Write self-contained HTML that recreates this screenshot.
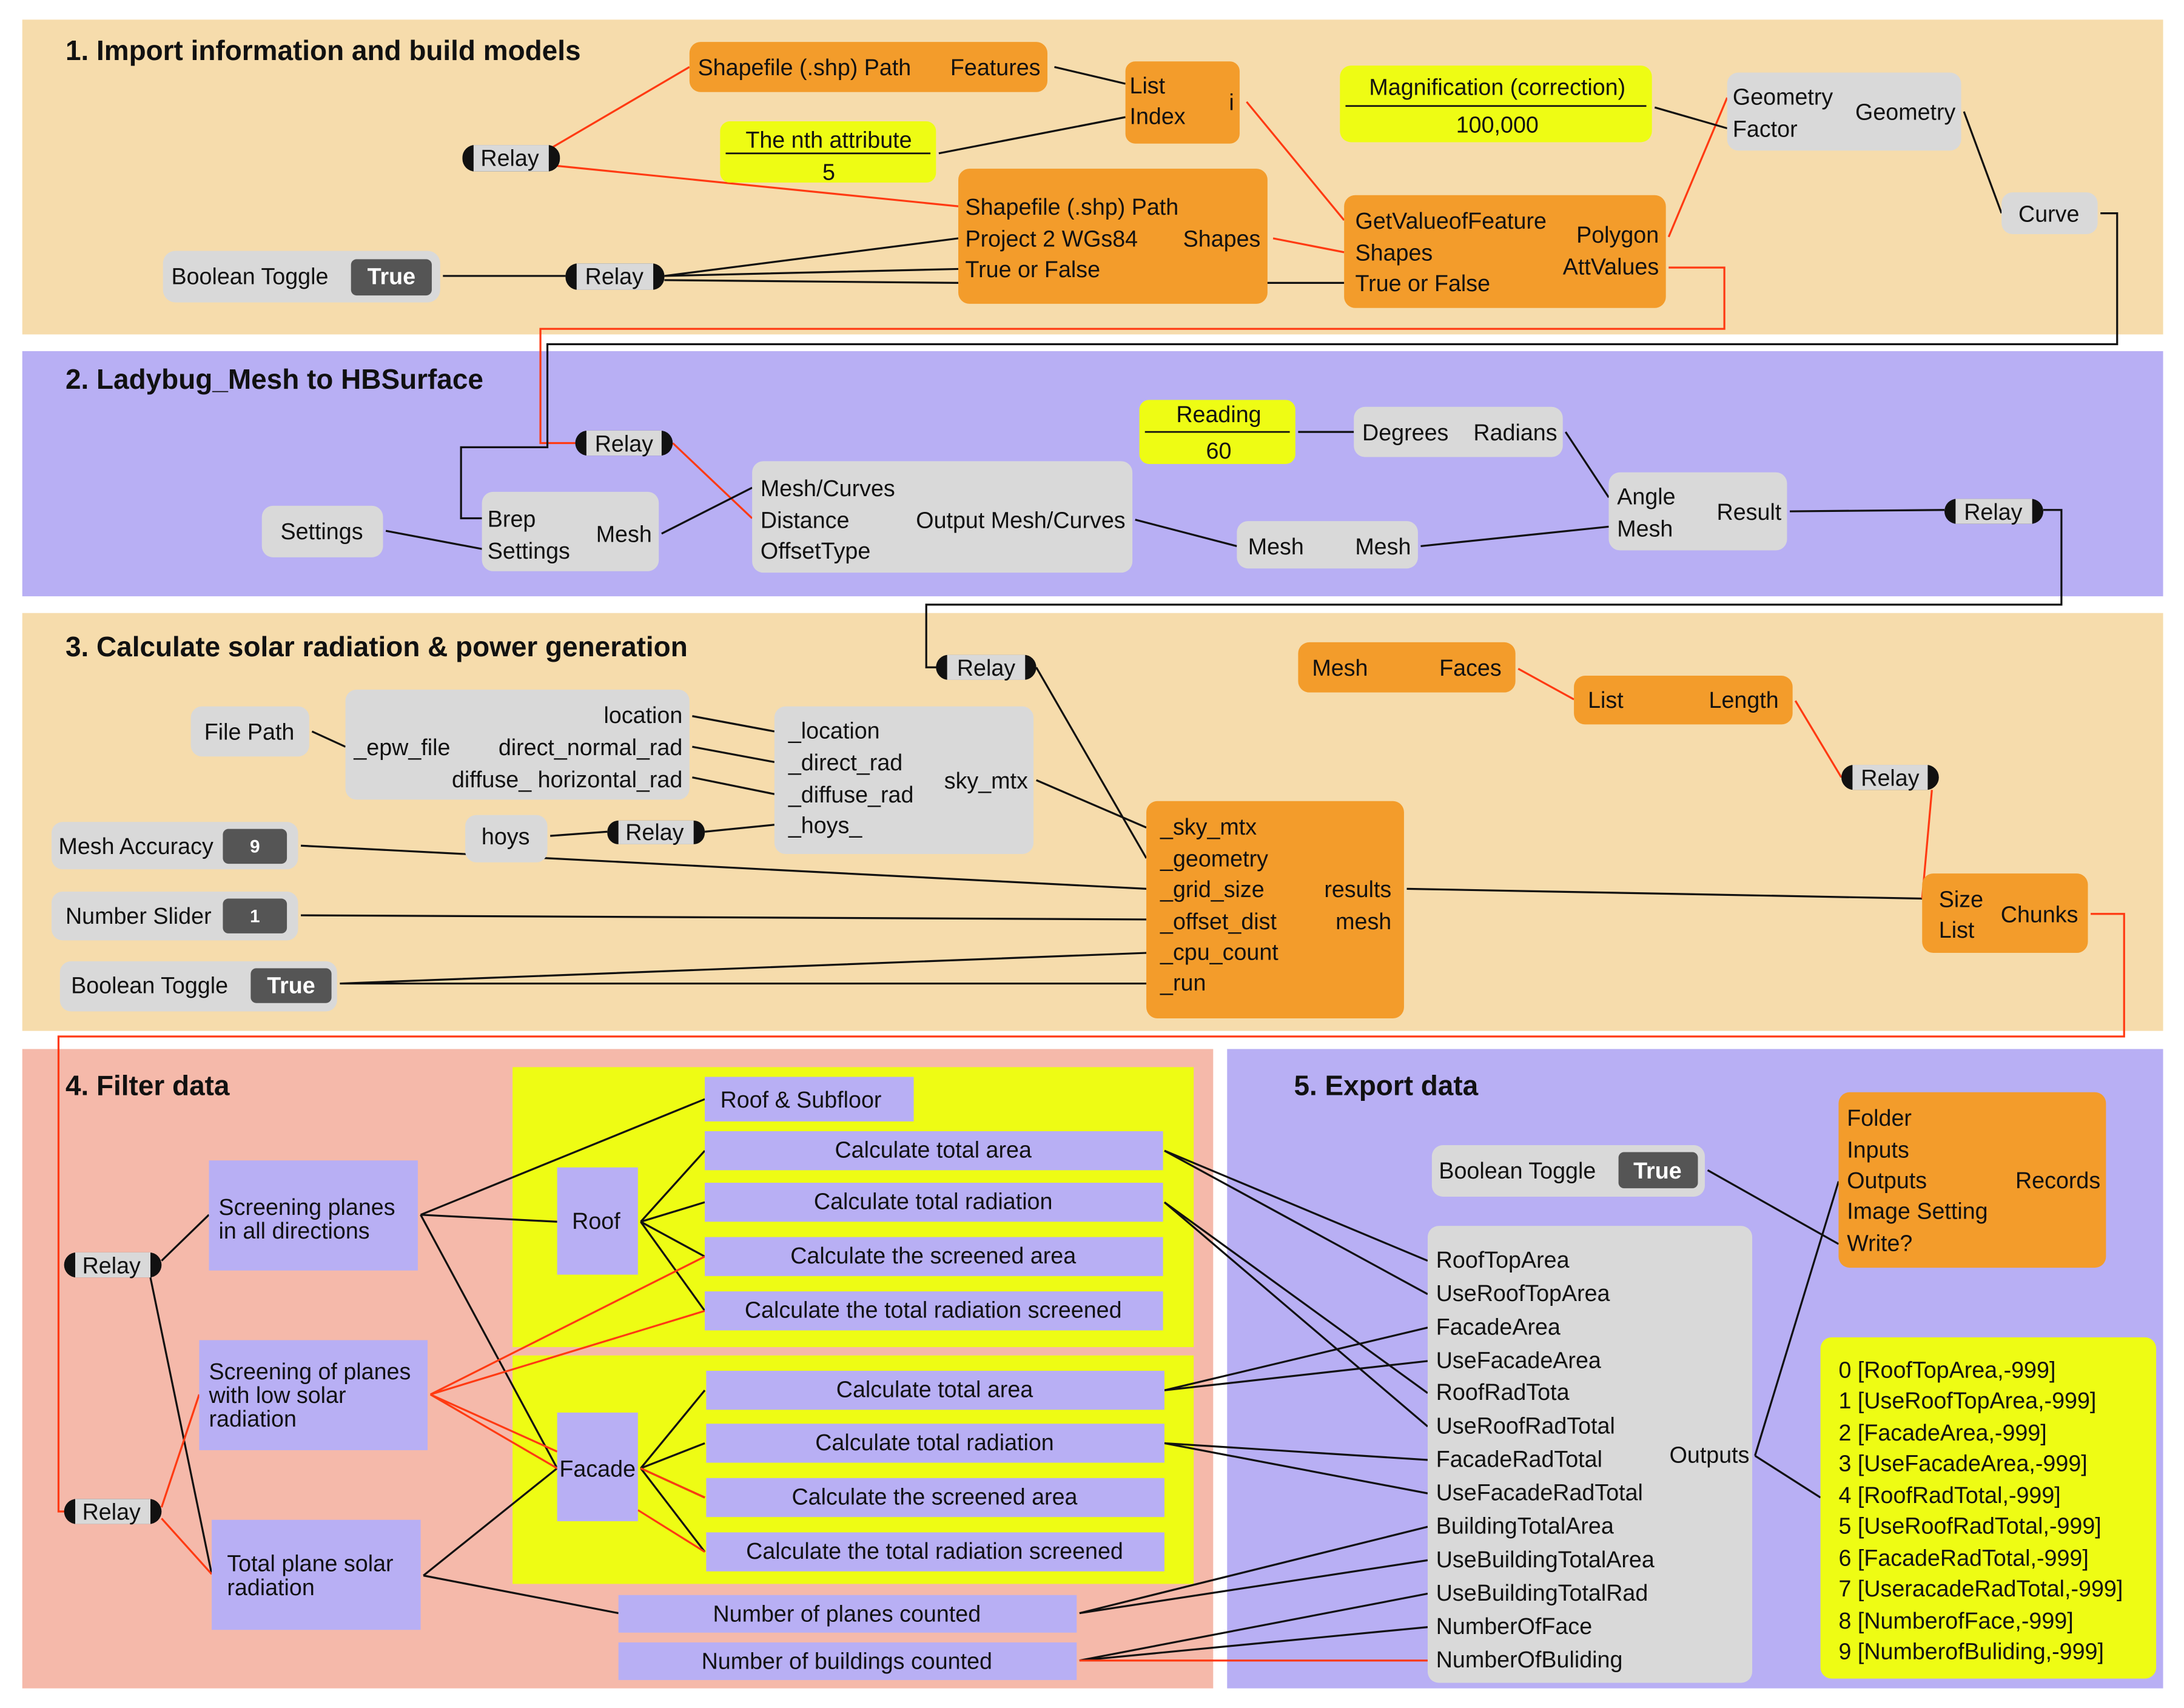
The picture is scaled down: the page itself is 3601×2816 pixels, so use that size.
<!DOCTYPE html>
<html><head><meta charset="utf-8"><style>
html,body{margin:0;padding:0;background:#fff}
svg{display:block}
text{font-family:"Liberation Sans",sans-serif;font-size:16.4px;fill:#111}
.t{font-size:20px;font-weight:bold}
.e{text-anchor:end}.m{text-anchor:middle}
.wb{fill:#fff;font-weight:bold;text-anchor:middle}
.k{stroke:#111;stroke-width:1.4;fill:none}
.r{stroke:#ff3a12;stroke-width:1.4;fill:none}
.o{fill:#f39c2b}.g{fill:#d9d9d9}.y{fill:#eefc14}.p{fill:#b8aff4}.d{fill:#555}
</style></head><body>
<svg width="3601" height="2816" viewBox="0 0 1568 1226" xmlns="http://www.w3.org/2000/svg">
<rect x="16" y="14" width="1537" height="226" fill="#f6dcac"/>
<rect x="16" y="252" width="1537" height="176" fill="#b8aff4"/>
<rect x="16" y="440" width="1537" height="300" fill="#f6dcac"/>
<rect x="16" y="753" width="855" height="459" fill="#f5b9aa"/>
<rect x="881" y="753" width="672" height="459" fill="#b8aff4"/>
<rect x="368" y="766" width="489" height="201" class="y"/>
<rect x="368" y="973" width="489" height="164" class="y"/>

<text class="t" x="47" y="43">1. Import information and build models</text>
<text class="t" x="47" y="279">2. Ladybug_Mesh to HBSurface</text>
<text class="t" x="47" y="471">3. Calculate solar radiation &amp; power generation</text>
<text class="t" x="47" y="786">4. Filter data</text>
<text class="t" x="929" y="786">5. Export data</text>

<path class="r" d="M396 106 L495 48 M400 119 L688 148 M895 73 L965 158 M914 171 L965 181 M1198 170 L1240 70"/>
<path class="k" d="M757 48 L808 60 M674 110 L808 84 M318 198 L406 198 M477 198 L688 171 M477 198 L688 193 M477 201 L688 203 L965 203 M1188 77 L1240 92 M1410 80 L1437 153"/>
<path class="r" d="M1198 192 L1238 192 L1238 236 L388 236 L388 318 L413 318"/>
<path class="k" d="M1508 153 L1520 153 L1520 247 L393 247 L393 321 L331 321 L331 372 L346 372"/>
<path class="r" d="M483 318 L540 372"/>
<path class="k" d="M277 381 L346 394 M475 383 L540 350 M815 373 L888 392 M932 310 L972 310 M1124 310 L1155 357 M1020 392 L1155 378 M1285 367 L1396 366 M1467 366 L1480 366 L1480 434 L665 434 L665 479 L675 479"/>
<path class="k" d="M224 525 L248 536 M497 514 L556 525 M497 536 L556 547 M497 558 L556 570 M506 597 L556 592 M395 600 L436 597 M744 560 L823 594 M744 479 L823 616 M216 607 L823 638 M216 657 L823 660 M244 706 L823 684 M244 706 L823 706 M1010 638 L1380 645"/>
<path class="r" d="M1090 480 L1130 502 M1289 503 L1322 558 M1387 567 L1380 645 M1501 656 L1525 656 L1525 744 L42 744 L42 1085 L48 1085"/>
<path class="k" d="M116 905 L150 872 M108 917 L152 1130 M302 872 L506 789 M302 872 L400 877 M302 872 L400 1054 M304 1131 L400 1054 M304 1131 L444 1158 M460 877 L506 826 M460 877 L506 863 M460 877 L506 902 M460 877 L506 941 M460 1054 L506 998 M460 1054 L506 1036 M460 1054 L506 1075 M460 1054 L506 1114"/>
<path class="r" d="M116 1082 L143 1001 M116 1090 L152 1130 M309 1001 L506 902 M309 1001 L506 941 M309 1001 L400 1042 M309 1001 L400 1054 M460 1054 L506 1075 M458 1084 L506 1114"/>
<path class="k" d="M1226 840 L1320 893 M1260 1045 L1320 848 M1260 1045 L1307 1075 M836 826 L1025 905 M836 826 L1025 929 M836 863 L1025 1000 M836 863 L1025 1024 M836 998 L1025 953 M836 998 L1025 977 M836 1036 L1025 1048 M836 1036 L1025 1072 M775 1158 L1025 1096 M775 1158 L1025 1120 M775 1192 L1025 1144 M775 1192 L1025 1168"/>
<path class="r" d="M775 1192 L1025 1192"/>

<rect x="495" y="30" width="257" height="36" rx="8" class="o"/>
<text x="501" y="54">Shapefile (.shp) Path</text><text class="e" x="747" y="54">Features</text>
<rect x="808" y="44" width="82" height="59" rx="7" class="o"/>
<text x="811" y="67">List</text><text x="811" y="89">Index</text><text class="e" x="886" y="79">i</text>
<rect x="517" y="87" width="155" height="44" rx="7" class="y"/>
<line x1="521" y1="110" x2="668" y2="110" stroke="#111" stroke-width="1.2"/>
<text class="m" x="595" y="106">The nth attribute</text><text class="m" x="595" y="129">5</text>
<rect x="332" y="104" width="70" height="19" rx="9" fill="#111"/><rect x="340" y="104" width="54" height="19" class="g"/>
<text class="m" x="366" y="119">Relay</text>
<rect x="688" y="121" width="222" height="97" rx="8" class="o"/>
<text x="693" y="154">Shapefile (.shp) Path</text><text x="693" y="177">Project 2 WGs84</text><text x="693" y="199">True or False</text><text class="e" x="905" y="177">Shapes</text>
<rect x="117" y="180" width="199" height="37" rx="9" class="g"/>
<text x="123" y="204">Boolean Toggle</text>
<rect x="252" y="186" width="58" height="26" rx="4" class="d"/><text class="wb" x="281" y="204">True</text>
<rect x="406" y="189" width="71" height="19" rx="9" fill="#111"/><rect x="414" y="189" width="55" height="19" class="g"/>
<text class="m" x="441" y="204">Relay</text>
<rect x="965" y="140" width="231" height="81" rx="8" class="o"/>
<text x="973" y="164">GetValueofFeature</text><text x="973" y="187">Shapes</text><text x="973" y="209">True or False</text>
<text class="e" x="1191" y="174">Polygon</text><text class="e" x="1191" y="197">AttValues</text>
<rect x="962" y="47" width="224" height="55" rx="8" class="y"/>
<line x1="966" y1="76" x2="1182" y2="76" stroke="#111" stroke-width="1.2"/>
<text class="m" x="1075" y="68">Magnification (correction)</text><text class="m" x="1075" y="95">100,000</text>
<rect x="1240" y="52" width="168" height="56" rx="8" class="g"/>
<text x="1244" y="75">Geometry</text><text x="1244" y="98">Factor</text><text class="e" x="1404" y="86">Geometry</text>
<rect x="1437" y="138" width="69" height="30" rx="8" class="g"/>
<text class="m" x="1471" y="159">Curve</text>

<rect x="413" y="309" width="70" height="18" rx="9" fill="#111"/><rect x="421" y="309" width="54" height="18" class="g"/>
<text class="m" x="448" y="324">Relay</text>
<rect x="188" y="363" width="87" height="37" rx="8" class="g"/><text class="m" x="231" y="387">Settings</text>
<rect x="346" y="353" width="127" height="57" rx="8" class="g"/>
<text x="350" y="378">Brep</text><text x="350" y="401">Settings</text><text class="e" x="468" y="389">Mesh</text>
<rect x="540" y="331" width="273" height="80" rx="8" class="g"/>
<text x="546" y="356">Mesh/Curves</text><text x="546" y="379">Distance</text><text x="546" y="401">OffsetType</text><text class="e" x="808" y="379">Output Mesh/Curves</text>
<rect x="818" y="287" width="112" height="46" rx="7" class="y"/>
<line x1="822" y1="310" x2="926" y2="310" stroke="#111" stroke-width="1.2"/>
<text class="m" x="875" y="303">Reading</text><text class="m" x="875" y="329">60</text>
<rect x="972" y="292" width="150" height="36" rx="8" class="g"/>
<text x="978" y="316">Degrees</text><text class="e" x="1118" y="316">Radians</text>
<rect x="888" y="374" width="130" height="34" rx="8" class="g"/>
<text x="896" y="398">Mesh</text><text class="e" x="1013" y="398">Mesh</text>
<rect x="1155" y="339" width="128" height="56" rx="8" class="g"/>
<text x="1161" y="362">Angle</text><text x="1161" y="385">Mesh</text><text class="e" x="1279" y="373">Result</text>
<rect x="1396" y="358" width="71" height="18" rx="9" fill="#111"/><rect x="1404" y="358" width="55" height="18" class="g"/>
<text class="m" x="1431" y="373">Relay</text>

<rect x="672" y="470" width="72" height="18" rx="9" fill="#111"/><rect x="680" y="470" width="56" height="18" class="g"/>
<text class="m" x="708" y="485">Relay</text>
<rect x="932" y="461" width="156" height="36" rx="8" class="o"/>
<text x="942" y="485">Mesh</text><text class="e" x="1078" y="485">Faces</text>
<rect x="1130" y="485" width="157" height="35" rx="8" class="o"/>
<text x="1140" y="508">List</text><text class="e" x="1277" y="508">Length</text>
<rect x="1322" y="549" width="70" height="18" rx="9" fill="#111"/><rect x="1330" y="549" width="54" height="18" class="g"/>
<text class="m" x="1357" y="564">Relay</text>
<rect x="137" y="507" width="85" height="36" rx="8" class="g"/><text class="m" x="179" y="531">File Path</text>
<rect x="248" y="495" width="247" height="79" rx="8" class="g"/>
<text class="e" x="490" y="519">location</text><text x="254" y="542">_epw_file</text><text class="e" x="490" y="542">direct_normal_rad</text><text class="e" x="490" y="565">diffuse_ horizontal_rad</text>
<rect x="556" y="507" width="186" height="106" rx="8" class="g"/>
<text x="566" y="530">_location</text><text x="566" y="553">_direct_rad</text><text x="566" y="576">_diffuse_rad</text><text x="566" y="598">_hoys_</text><text class="e" x="738" y="566">sky_mtx</text>
<rect x="37" y="590" width="177" height="34" rx="8" class="g"/><text x="42" y="613">Mesh Accuracy</text>
<rect x="160" y="595" width="46" height="25" rx="4" class="d"/><text class="wb" x="183" y="612" style="font-size:13px">9</text>
<rect x="334" y="585" width="59" height="34" rx="8" class="g"/><text class="m" x="363" y="606">hoys</text>
<rect x="436" y="589" width="70" height="17" rx="8" fill="#111"/><rect x="444" y="589" width="54" height="17" class="g"/>
<text class="m" x="470" y="603">Relay</text>
<rect x="37" y="640" width="177" height="35" rx="8" class="g"/><text x="47" y="663">Number Slider</text>
<rect x="160" y="645" width="46" height="25" rx="4" class="d"/><text class="wb" x="183" y="662" style="font-size:13px">1</text>
<rect x="43" y="690" width="199" height="36" rx="8" class="g"/><text x="51" y="713">Boolean Toggle</text>
<rect x="180" y="695" width="58" height="25" rx="4" class="d"/><text class="wb" x="209" y="713">True</text>
<rect x="823" y="575" width="185" height="156" rx="8" class="o"/>
<text x="833" y="599">_sky_mtx</text><text x="833" y="622">_geometry</text><text x="833" y="644">_grid_size</text><text x="833" y="667">_offset_dist</text><text x="833" y="689">_cpu_count</text><text x="833" y="711">_run</text>
<text class="e" x="999" y="644">results</text><text class="e" x="999" y="667">mesh</text>
<rect x="1380" y="627" width="119" height="57" rx="8" class="o"/>
<text x="1392" y="651">Size</text><text x="1392" y="673">List</text><text class="e" x="1492" y="662">Chunks</text>

<rect x="46" y="899" width="70" height="18" rx="9" fill="#111"/><rect x="54" y="899" width="54" height="18" class="g"/>
<text class="m" x="80" y="914">Relay</text>
<rect x="46" y="1076" width="70" height="18" rx="9" fill="#111"/><rect x="54" y="1076" width="54" height="18" class="g"/>
<text class="m" x="80" y="1091">Relay</text>
<rect x="150" y="833" width="150" height="79" class="p"/>
<text x="157" y="872">Screening planes</text><text x="157" y="889">in all directions</text>
<rect x="143" y="962" width="164" height="79" class="p"/>
<text x="150" y="990">Screening of planes</text><text x="150" y="1007">with low solar</text><text x="150" y="1024">radiation</text>
<rect x="152" y="1091" width="150" height="79" class="p"/>
<text x="163" y="1128">Total plane solar</text><text x="163" y="1145">radiation</text>
<rect x="400" y="838" width="58" height="77" class="p"/><text class="m" x="428" y="882">Roof</text>
<rect x="400" y="1014" width="58" height="78" class="p"/><text class="m" x="429" y="1060">Facade</text>
<rect x="506" y="773" width="150" height="32" class="p"/><text class="m" x="575" y="795">Roof &amp; Subfloor</text>
<rect x="506" y="812" width="329" height="28" class="p"/><text class="m" x="670" y="831">Calculate total area</text>
<rect x="506" y="849" width="329" height="28" class="p"/><text class="m" x="670" y="868">Calculate total radiation</text>
<rect x="506" y="888" width="329" height="28" class="p"/><text class="m" x="670" y="907">Calculate the screened area</text>
<rect x="506" y="927" width="329" height="28" class="p"/><text class="m" x="670" y="946">Calculate the total radiation screened</text>
<rect x="507" y="984" width="329" height="28" class="p"/><text class="m" x="671" y="1003">Calculate total area</text>
<rect x="507" y="1022" width="329" height="28" class="p"/><text class="m" x="671" y="1041">Calculate total radiation</text>
<rect x="507" y="1061" width="329" height="28" class="p"/><text class="m" x="671" y="1080">Calculate the screened area</text>
<rect x="507" y="1100" width="329" height="28" class="p"/><text class="m" x="671" y="1119">Calculate the total radiation screened</text>
<rect x="444" y="1145" width="329" height="27" class="p"/><text class="m" x="608" y="1164">Number of planes counted</text>
<rect x="444" y="1179" width="329" height="27" class="p"/><text class="m" x="608" y="1198">Number of buildings counted</text>

<rect x="1028" y="822" width="196" height="37" rx="8" class="g"/><text x="1033" y="846">Boolean Toggle</text>
<rect x="1162" y="827" width="57" height="26" rx="4" class="d"/><text class="wb" x="1190" y="846">True</text>
<rect x="1320" y="784" width="192" height="126" rx="8" class="o"/>
<text x="1326" y="808">Folder</text><text x="1326" y="831">Inputs</text><text x="1326" y="853">Outputs</text><text x="1326" y="875">Image Setting</text><text x="1326" y="898">Write?</text>
<text class="e" x="1508" y="853">Records</text>
<rect x="1025" y="880" width="233" height="328" rx="8" class="g"/>
<text x="1031" y="910">RoofTopArea</text><text x="1031" y="934">UseRoofTopArea</text><text x="1031" y="958">FacadeArea</text><text x="1031" y="982">UseFacadeArea</text><text x="1031" y="1005">RoofRadTota</text><text x="1031" y="1029">UseRoofRadTotal</text><text x="1031" y="1053">FacadeRadTotal</text><text x="1031" y="1077">UseFacadeRadTotal</text><text x="1031" y="1101">BuildingTotalArea</text><text x="1031" y="1125">UseBuildingTotalArea</text><text x="1031" y="1149">UseBuildingTotalRad</text><text x="1031" y="1173">NumberOfFace</text><text x="1031" y="1197">NumberOfBuliding</text>
<text class="e" x="1256" y="1050">Outputs</text>
<rect x="1307" y="960" width="241" height="245" rx="8" class="y"/>
<text x="1320" y="989">0  [RoofTopArea,-999]</text>
<text x="1320" y="1011">1  [UseRoofTopArea,-999]</text>
<text x="1320" y="1034">2  [FacadeArea,-999]</text>
<text x="1320" y="1056">3  [UseFacadeArea,-999]</text>
<text x="1320" y="1079">4  [RoofRadTotal,-999]</text>
<text x="1320" y="1101">5  [UseRoofRadTotal,-999]</text>
<text x="1320" y="1124">6  [FacadeRadTotal,-999]</text>
<text x="1320" y="1146">7  [UseracadeRadTotal,-999]</text>
<text x="1320" y="1169">8  [NumberofFace,-999]</text>
<text x="1320" y="1191">9  [NumberofBuliding,-999]</text>
</svg>
</body></html>
